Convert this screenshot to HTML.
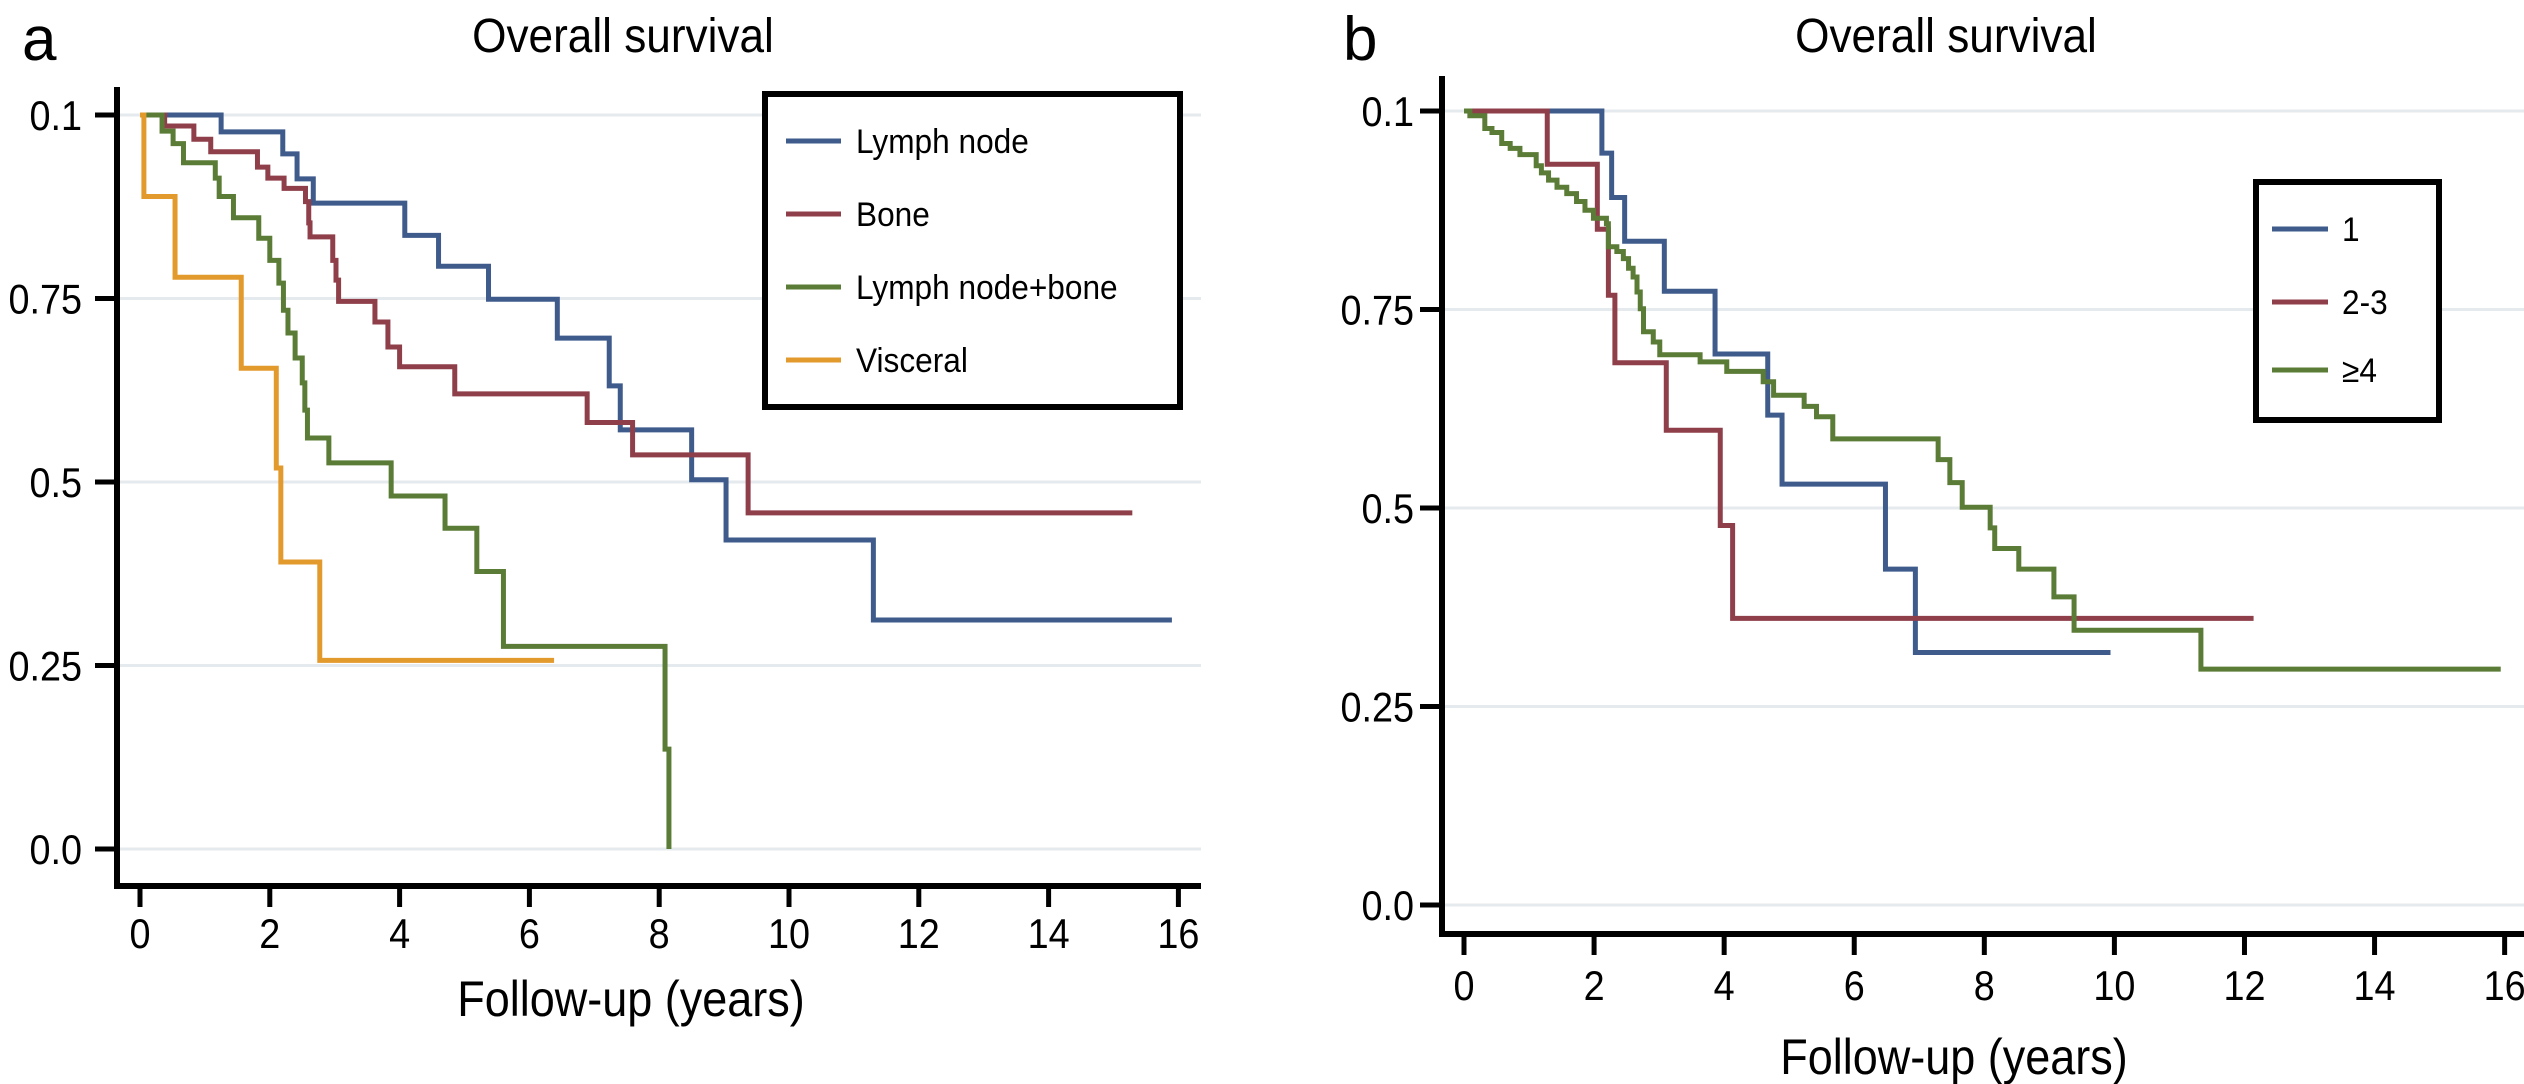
<!DOCTYPE html>
<html><head><meta charset="utf-8"><style>
html,body{margin:0;padding:0;background:#fff;}
svg{display:block;font-family:"Liberation Sans",Arial,sans-serif;}
</style></head><body>
<svg id="fig" width="2524" height="1084" viewBox="0 0 2524 1084">
<g id="pa"></g>
<g id="pb"></g>
</svg>
<script>
// ---------- Panel A data ----------
const aXTicks = [0,2,4,6,8,10,12,14,16];
const aYTicks = [1.0,0.75,0.5,0.25,0.0];
const aYTickLabels = ["0.1","0.75","0.5","0.25","0.0"];
const aSeriesNames = ["Lymph node","Bone","Lymph node+bone","Visceral"];
const aLymphT = [0,1.25,2.2,2.42,2.67,4.08,4.6,5.37,6.43,7.23,7.4,8.5,9.03,11.3,15.9];
const aLymphS = [1,0.977,0.947,0.913,0.880,0.836,0.794,0.749,0.696,0.631,0.571,0.503,0.421,0.312,0.312];
const aBoneT = [0,0.38,0.83,1.09,1.81,1.97,2.22,2.55,2.6,2.62,2.97,3.02,3.06,3.62,3.82,4.0,4.85,6.89,7.59,9.37,15.29];
const aBoneS = [1,0.985,0.967,0.950,0.929,0.914,0.900,0.882,0.853,0.834,0.802,0.775,0.746,0.718,0.684,0.657,0.620,0.581,0.537,0.458,0.458];
const aLnbT = [0,0.34,0.51,0.67,1.16,1.22,1.44,1.83,2.0,2.14,2.21,2.28,2.39,2.5,2.54,2.58,2.91,3.87,4.7,5.19,5.6,8.09,8.15,8.15];
const aLnbS = [1,0.978,0.961,0.935,0.914,0.889,0.860,0.832,0.802,0.771,0.734,0.703,0.669,0.635,0.598,0.560,0.526,0.481,0.437,0.378,0.276,0.136,0.0,0.0];
const aVisT = [0,0.06,0.54,1.56,2.1,2.17,2.77,6.38];
const aVisS = [1,0.889,0.779,0.655,0.519,0.391,0.257,0.257];
// ---------- Panel B data ----------
const bXTicks = [0,2,4,6,8,10,12,14,16];
const bYTicks = [1.0,0.75,0.5,0.25,0.0];
const bYTickLabels = ["0.1","0.75","0.5","0.25","0.0"];
const bSeriesNames = ["1","2-3","\u22654"];
const b1T = [0,2.12,2.27,2.47,3.08,3.86,4.67,4.89,6.48,6.94,9.94];
const b1S = [1,0.947,0.891,0.836,0.773,0.694,0.617,0.530,0.423,0.318,0.318];
const b23T = [0,1.28,2.05,2.22,2.32,3.11,3.94,4.13,12.14];
const b23S = [1,0.933,0.851,0.768,0.683,0.598,0.478,0.361,0.361];
const b4T = [0,0.09,0.32,0.43,0.58,0.71,0.86,1.11,1.19,1.3,1.43,1.58,1.73,1.86,1.99,2.19,2.22,2.35,2.45,2.53,2.6,2.66,2.71,2.76,2.91,3.01,3.63,4.04,4.6,4.76,5.23,5.42,5.67,7.29,7.47,7.66,8.09,8.16,8.53,9.07,9.38,11.33,15.94];
const b4S = [1,0.994,0.978,0.973,0.959,0.953,0.945,0.931,0.922,0.913,0.904,0.896,0.886,0.875,0.865,0.858,0.829,0.823,0.814,0.802,0.791,0.772,0.751,0.722,0.709,0.693,0.684,0.672,0.659,0.642,0.628,0.615,0.587,0.561,0.532,0.501,0.475,0.449,0.423,0.388,0.346,0.297,0.297];

const NS="http://www.w3.org/2000/svg";
const C={blue:"#3e5b8c",red:"#8f3f4a",green:"#5b7c36",orange:"#e39a2d",grid:"#e4eaee"};
function mk(parent,tag,attrs,txt){const e=document.createElementNS(NS,tag);for(const k in attrs)e.setAttribute(k,attrs[k]);if(txt!==undefined)e.textContent=txt;parent.appendChild(e);return e;}
function stepPath(T,S,xf,yf){let d="M"+xf(T[0])+","+yf(S[0]);let cur=S[0];for(let i=1;i<T.length;i++){d+=" L"+xf(T[i])+","+yf(cur);d+=" L"+xf(T[i])+","+yf(S[i]);cur=S[i];}return d;}
// condensed text: scale x around anchor
function ctext(g,x,y,anchor,size,str,sx){
  const t=mk(g,"text",{x:x/sx,y:y,"text-anchor":anchor,"font-size":size,transform:"scale("+sx+",1)"},str);
  return t;
}

function panel(g,cfg){
  const xf=t=>cfg.x0+t*cfg.xs, yf=v=>cfg.y0-v*cfg.ys;
  cfg.yTicks.forEach(v=>{
    const l=mk(g,"line",{x1:cfg.axX,x2:cfg.gridEnd,y1:yf(v),y2:yf(v),stroke:C.grid,"stroke-width":3});
    
    
  });
  cfg.series.forEach(s=>{
    const p=mk(g,"path",{d:stepPath(s.T,s.S,xf,yf),fill:"none",stroke:s.c,"stroke-width":5,"stroke-linejoin":"miter"});
    
    
  });
  const ya=mk(g,"line",{x1:cfg.axX,x2:cfg.axX,y1:cfg.axTop,y2:cfg.axY+3,stroke:"#000","stroke-width":6});
  
  
  const xa=mk(g,"line",{x1:cfg.axX-3,x2:cfg.axRight,y1:cfg.axY,y2:cfg.axY,stroke:"#000","stroke-width":6});
  
  
  cfg.yTicks.forEach((v,i)=>{
    mk(g,"line",{x1:cfg.axX-22,x2:cfg.axX,y1:yf(v),y2:yf(v),stroke:"#000","stroke-width":5});
    const t=ctext(g,cfg.yLabRight,yf(v)+15,"end",42,cfg.yLabels[i],0.9);
    
    
  });
  cfg.xTicks.forEach(v=>{
    mk(g,"line",{x1:xf(v),x2:xf(v),y1:cfg.axY,y2:cfg.axY+21,stroke:"#000","stroke-width":5});
    const t=ctext(g,xf(v),cfg.xLabBase,"middle",42,String(v),0.9);
    
    
  });
  const ti=ctext(g,cfg.titleX,52,"middle",48,"Overall survival",0.92);
  
  
  const pl=mk(g,"text",{x:cfg.letterX,y:60,"font-size":62},cfg.letter);
  
  
  const xt=ctext(g,cfg.xTitleX,cfg.xTitleY,"middle",50,"Follow-up (years)",0.9);
  
  
  const L=cfg.legend;
  const lg=mk(g,"g",{});
  
  
  mk(lg,"rect",{x:L.x,y:L.y,width:L.w,height:L.h,fill:"#fff",stroke:"#000","stroke-width":6});
  cfg.series.forEach((s,i)=>{
    const e=mk(lg,"g",{});
    
    
    const yy=L.ys[i];
    mk(e,"line",{x1:L.lx1,x2:L.lx2,y1:yy,y2:yy,stroke:s.c,"stroke-width":5});
    ctext(e,L.tx,yy+12,"start",34,s.label,0.93);
  });
}

panel(document.getElementById("pa"),{
  x0:140,xs:64.9,y0:849,ys:734,axX:117,axTop:87,axY:886,axRight:1201,gridEnd:1201,
  yTicks:aYTicks,yLabels:aYTickLabels,xTicks:aXTicks,yLabRight:82,xLabBase:948,
  titleX:623,letter:"a",letterX:22,xTitleX:631,xTitleY:1016,
  series:[
    {name:"lymph-node-curve",label:aSeriesNames[0],T:aLymphT,S:aLymphS,c:C.blue},
    {name:"bone-curve",label:aSeriesNames[1],T:aBoneT,S:aBoneS,c:C.red},
    {name:"lymph-node-bone-curve",label:aSeriesNames[2],T:aLnbT,S:aLnbS,c:C.green},
    {name:"visceral-curve",label:aSeriesNames[3],T:aVisT,S:aVisS,c:C.orange}],
  legend:{x:765,y:94,w:415,h:313,lx1:786,lx2:841,tx:856,ys:[141,214,287,360]}
});
panel(document.getElementById("pb"),{
  x0:1464,xs:65.04,y0:905,ys:794,axX:1442,axTop:76,axY:934,axRight:2524,gridEnd:2524,
  yTicks:bYTicks,yLabels:bYTickLabels,xTicks:bXTicks,yLabRight:1414,xLabBase:1000,
  titleX:1946,letter:"b",letterX:1343,xTitleX:1954,xTitleY:1074,
  series:[
    {name:"one-site-curve",label:bSeriesNames[0],T:b1T,S:b1S,c:C.blue},
    {name:"two-three-sites-curve",label:bSeriesNames[1],T:b23T,S:b23S,c:C.red},
    {name:"four-plus-sites-curve",label:bSeriesNames[2],T:b4T,S:b4S,c:C.green}],
  legend:{x:2256,y:182,w:183,h:238,lx1:2272,lx2:2328,tx:2342,ys:[229,302,370]}
});
</script>
</body></html>
